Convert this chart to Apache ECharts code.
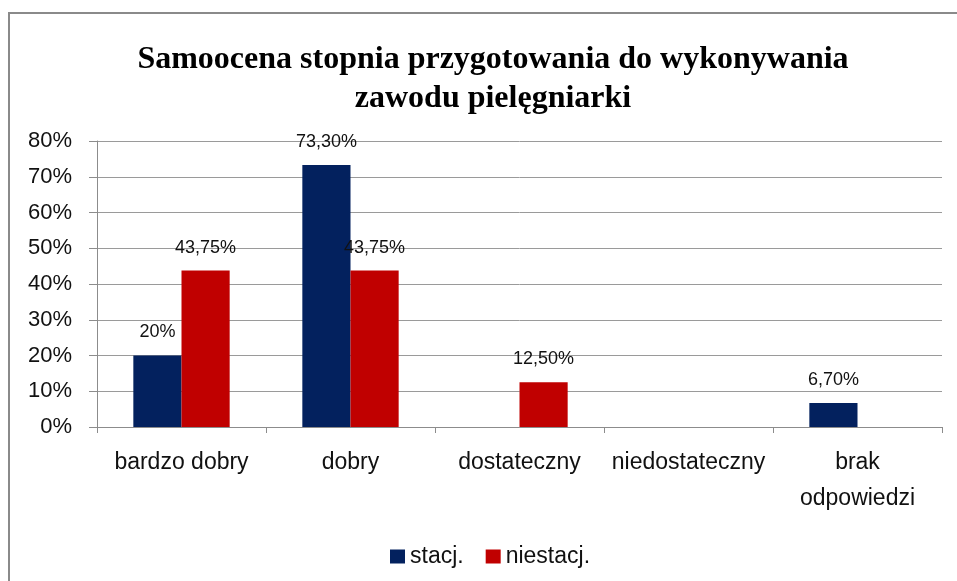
<!DOCTYPE html>
<html>
<head>
<meta charset="utf-8">
<script src="https://cdn.jsdelivr.net/npm/echarts@6/dist/echarts.min.js"></script>
<style>html,body{margin:0;padding:0;background:#fff}#c{width:957px;height:581px}</style>
</head>
<body>
<div id="c"></div>
<script>
const titleText = 'Samoocena stopnia przygotowania do wykonywania\nzawodu pielęgniarki';
const categories = ['bardzo dobry', 'dobry', 'dostateczny', 'niedostateczny', 'brak\nodpowiedzi'];
const seriesNames = ['stacj.', 'niestacj.'];
const stacj = [20, 73.3, null, null, 6.7];
const niestacj = [43.75, 43.75, 12.5, null, null];
const stacjLabels = ['20%', '73,30%', '', '', '6,70%'];
const niestacjLabels = ['43,75%', '43,75%', '12,50%', '', ''];
const yTicks = [0, 10, 20, 30, 40, 50, 60, 70, 80];

const chart = echarts.init(document.getElementById('c'), null, {renderer: 'canvas'});
const labelFont = {fontFamily: 'Liberation Sans', fontSize: 18, color: '#111'};
chart.setOption({
  animation: false,
  backgroundColor: '#fff',
  graphic: [{
    type: 'rect', z: -1,
    shape: {x: 9, y: 13, width: 1000, height: 700},
    style: {fill: '#fff', stroke: '#8a8a8a', lineWidth: 2}
  }],
  title: {
    text: titleText,
    left: 488, top: 35, textAlign: 'center',
    textStyle: {fontFamily: 'Liberation Serif', fontWeight: 'bold', fontSize: 32, lineHeight: 39, color: '#000'}
  },
  legend: {
    data: seriesNames,
    left: 385, top: 540,
    icon: 'rect', itemWidth: 15, itemHeight: 14, itemGap: 22,
    textStyle: {fontFamily: 'Liberation Sans', fontSize: 23, color: '#111'}
  },
  grid: {left: 97, right: 15, top: 141, bottom: 154, containLabel: false},
  xAxis: {
    type: 'category', data: categories,
    axisLine: {lineStyle: {color: '#8c8c8c', width: 1}},
    axisTick: {show: true, length: 6, lineStyle: {color: '#8c8c8c'}},
    axisLabel: {interval: 0, margin: 18, fontFamily: 'Liberation Sans', fontSize: 23, lineHeight: 36, color: '#111'}
  },
  yAxis: {
    type: 'value', min: yTicks[0], max: yTicks[yTicks.length - 1], interval: 10,
    axisLine: {show: true, lineStyle: {color: '#8c8c8c'}},
    axisTick: {show: true, length: 8, lineStyle: {color: '#8c8c8c'}},
    splitLine: {lineStyle: {color: '#9a9a9a', width: 1}},
    axisLabel: {formatter: v => v + '%', margin: 25, fontFamily: 'Liberation Sans', fontSize: 22, color: '#111'}
  },
  series: [
    {
      name: seriesNames[0], type: 'bar', data: stacj,
      barGap: '0%', barCategoryGap: '43%',
      itemStyle: {color: '#03215E'},
      label: {show: true, position: 'top', distance: 14, ...labelFont,
        formatter: p => stacjLabels[p.dataIndex]}
    },
    {
      name: seriesNames[1], type: 'bar', data: niestacj,
      barGap: '0%', barCategoryGap: '43%',
      itemStyle: {color: '#C00000'},
      label: {show: true, position: 'top', distance: 14, ...labelFont,
        formatter: p => niestacjLabels[p.dataIndex]}
    }
  ]
});
</script>
</body>
</html>
